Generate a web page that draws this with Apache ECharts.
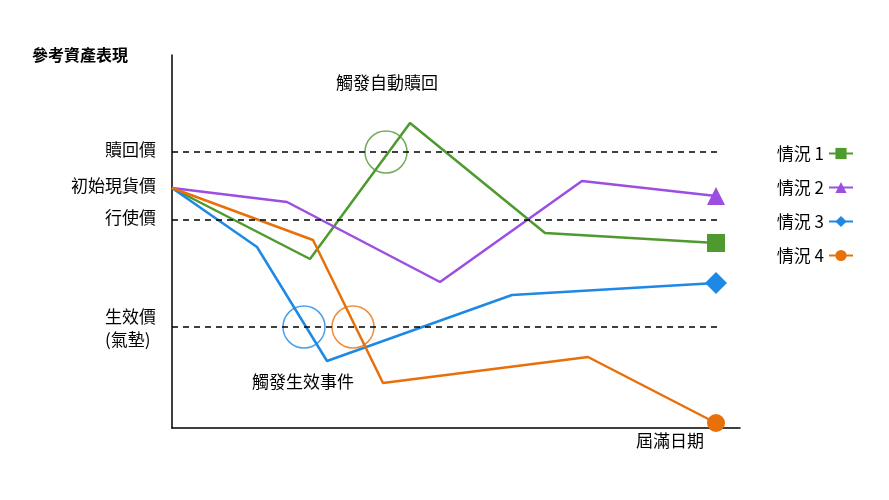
<!DOCTYPE html><html><head><meta charset="utf-8"><script src="https://cdn.jsdelivr.net/npm/echarts@6/dist/echarts.min.js"></script></head><body style="margin:0"><div id="c" style="width:889px;height:500px"></div><script>
const names=['情況 1','情況 2','情況 3','情況 4'];
const xs=[[0,138,238,373,544],[0,115,268,410,544],[0,85,155,340,544],[0,141,211,416,544]];
const ys=[[240,169,305,195,185],[240,226,146,247,232],[240,181,67,133,145],[240,188,45,71,5]];
const colors=['#4e9a2e','#9b4ee0','#1e88e5','#e8700a'];
const symbols=['rect','triangle','diamond','circle'];
const levels=[276,208,101];
const circles=[[214,276,'#4e9a2e'],[132,101,'#1e88e5'],[181,101,'#e8700a']];
const F='"Noto Sans CJK TC", sans-serif';
const series=names.map((n,i)=>({name:n,type:'line',color:colors[i],symbol:symbols[i],symbolSize:18,lineStyle:{width:2.5},
 data:xs[i].map((x,j)=>({value:[x,ys[i][j]],symbolSize:j===4?(i==2?22:18):0})),z:3}));
series.push({type:'line',data:[],markLine:{silent:true,symbol:'none',label:{show:false},lineStyle:{type:[6,5],color:'#000',width:1.5},
 data:levels.map(v=>[{coord:[0,v]},{coord:[548,v]}])}});
series.push({type:'scatter',data:circles.map(c=>({value:[c[0],c[1]],itemStyle:{borderColor:c[2]}})),symbol:'circle',symbolSize:42,itemStyle:{color:'transparent',borderWidth:1.5},z:2});
const ch=echarts.init(document.getElementById('c'));
ch.setOption({animation:false,
grid:{left:172,top:55,width:568,height:373},
xAxis:{type:'value',min:0,max:568,axisLine:{lineStyle:{color:'#000',width:1.5}},axisTick:{show:false},axisLabel:{show:false},splitLine:{show:false}},
yAxis:{type:'value',min:0,max:373,axisLine:{show:true,lineStyle:{color:'#000',width:1.5}},axisTick:{show:false},axisLabel:{show:false},splitLine:{show:false}},
legend:{orient:'vertical',right:30,top:140,align:'right',itemGap:17,itemWidth:24,itemHeight:14,data:names,textStyle:{fontSize:17,fontFamily:F,color:'#000'}},
series,
graphic:[
 {type:'text',left:32,top:47,style:{text:'參考資產表現',font:'bold 16px '+F,fill:'#000'}},
 {type:'text',left:336,top:74,style:{text:'觸發自動贖回',font:'17px '+F,fill:'#000'}},
 {type:'text',left:252,top:373,style:{text:'觸發生效事件',font:'17px '+F,fill:'#000'}},
 {type:'text',left:636,top:432,style:{text:'屆滿日期',font:'17px '+F,fill:'#000'}},
 {type:'text',right:733,top:141,style:{text:'贖回價',font:'17px '+F,fill:'#000',align:'right'}},
 {type:'text',right:733,top:177,style:{text:'初始現貨價',font:'17px '+F,fill:'#000',align:'right'}},
 {type:'text',right:733,top:209,style:{text:'行使價',font:'17px '+F,fill:'#000',align:'right'}},
 {type:'text',right:733,top:305,style:{text:'生效價\n(氣墊)',font:'17px '+F,fill:'#000',align:'right',lineHeight:23}}
]});
</script></body></html>
